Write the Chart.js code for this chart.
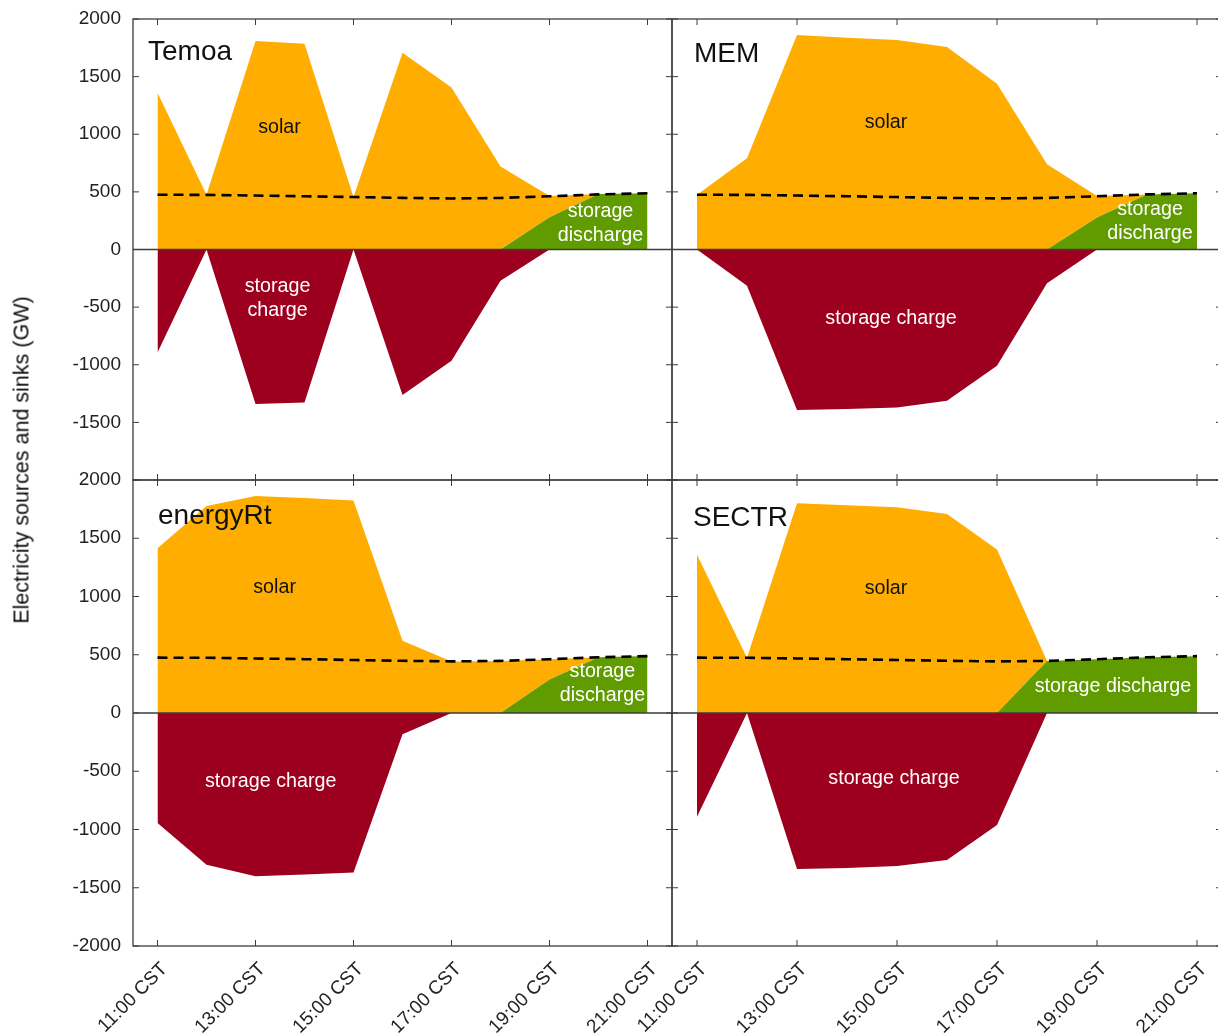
<!DOCTYPE html>
<html>
<head>
<meta charset="utf-8">
<script src="https://cdn.jsdelivr.net/npm/chart.js@4.4.1/dist/chart.umd.min.js"></script>
<style>
  html, body { margin: 0; padding: 0; background: #fff; overflow: hidden; }
  #wrap { position: relative; width: 1218px; height: 1035px; overflow: hidden; }
  #wrap canvas { position: absolute; }
  #ylabel {
    position: absolute; left: 22px; top: 460px;
    transform: translate(-50%, -50%) rotate(-90deg);
    white-space: nowrap; color: #111;
    font: 21.5px "Liberation Sans", Arial, sans-serif;
  }
</style>
</head>
<body>
<div id="wrap">
  <canvas id="c-temoa" width="680" height="509" style="left:0;top:-5px"></canvas>
  <canvas id="c-mem" width="670" height="509" style="left:560px;top:-5px"></canvas>
  <canvas id="c-energyrt" width="680" height="579" style="left:0;top:456px"></canvas>
  <canvas id="c-sectr" width="670" height="579" style="left:560px;top:456px"></canvas>
  <div id="ylabel">Electricity sources and sinks (GW)</div>
</div>
<script>
// hours of the day (CST)
const HOURS = [11, 12, 13, 14, 15, 16, 17, 18, 19, 20, 21];
const X_TICKS = [11, 13, 15, 17, 19, 21];
const X_TICK_LABELS = ["11:00 CST", "13:00 CST", "15:00 CST", "17:00 CST", "19:00 CST", "21:00 CST"];
const Y_TICKS = [-2000, -1500, -1000, -500, 0, 500, 1000, 1500, 2000];

// demand (dashed line), GW
const DEMAND = [475, 474, 468, 462, 455, 448, 443, 447, 462, 478, 488];

// Temoa
const TEMOA_SOLAR = [1361, 474, 1809, 1786, 455, 1708, 1405, 720, 185, 0, 0];
const TEMOA_DISCHARGE = [0, 0, 0, 0, 0, 0, 0, 0, 280, 482, 488];
const TEMOA_CHARGE = [-893, 0, -1341, -1327, 0, -1263, -965, -272, 0, 0, 0];

// MEM
const MEM_SOLAR = [475, 792, 1861, 1838, 1818, 1757, 1439, 740, 188, 0, 0];
const MEM_DISCHARGE = [0, 0, 0, 0, 0, 0, 0, 0, 277, 478, 488];
const MEM_CHARGE = [0, -315, -1393, -1384, -1370, -1312, -1009, -292, 0, 0, 0];

// energyRt
const ERT_SOLAR = [1414, 1776, 1863, 1845, 1823, 620, 443, 447, 174, 0, 0];
const ERT_DISCHARGE = [0, 0, 0, 0, 0, 0, 0, 0, 288, 478, 490];
const ERT_CHARGE = [-945, -1302, -1401, -1386, -1370, -183, 0, 0, 0, 0, 0];

// SECTR
const SECTR_SOLAR = [1358, 474, 1801, 1783, 1767, 1708, 1404, 0, 0, 0, 0];
const SECTR_DISCHARGE = [0, 0, 0, 0, 0, 0, 0, 447, 462, 478, 488];
const SECTR_CHARGE = [-890, 0, -1339, -1330, -1314, -1262, -961, 0, 0, 0, 0];

const ORANGE = "#ffad00";
const RED = "#9c001e";
const GREEN = "#609c00";
const AXIS = "#3c3c3c";
const TEXT = "#222";
const FONT = '"Liberation Sans", Arial, sans-serif';
const TICK_LEN = 6;

Chart.defaults.font.family = FONT;

// y tick labels ask for ~24px of room above/below the plot, so every canvas
// gets at least that much padding and is shifted to keep the plot boxes aligned
const panels = [
  {
    id: "c-temoa", title: "Temoa", titleAt: [15, 41],
    solar: TEMOA_SOLAR, discharge: TEMOA_DISCHARGE, charge: TEMOA_CHARGE,
    padding: { top: 24, right: 8, bottom: 24, left: 0 }, showX: false, showY: true, hideMinLabel: true,
    labels: [
      { text: ["solar"], x: 13.49, y: 1061, color: "#111" },
      { text: ["storage", "charge"], x: 13.45, y: -426, color: "#fff" },
      { text: ["storage", "discharge"], x: 20.04, y: 226, color: "#fff" },
    ],
  },
  {
    id: "c-mem", title: "MEM", titleAt: [22, 43],
    solar: MEM_SOLAR, discharge: MEM_DISCHARGE, charge: MEM_CHARGE,
    padding: { top: 24, right: 8, bottom: 24, left: 112 }, showX: false, showY: false,
    labels: [
      { text: ["solar"], x: 14.78, y: 1104, color: "#111" },
      { text: ["storage charge"], x: 14.88, y: -600, color: "#fff" },
      { text: ["storage", "discharge"], x: 20.06, y: 243, color: "#fff" },
    ],
  },
  {
    id: "c-energyrt", title: "energyRt", titleAt: [25, 44],
    solar: ERT_SOLAR, discharge: ERT_DISCHARGE, charge: ERT_CHARGE,
    padding: { top: 24, right: 8, bottom: 0, left: 0 }, showX: true, showY: true,
    labels: [
      { text: ["solar"], x: 13.39, y: 1073, color: "#111" },
      { text: ["storage charge"], x: 13.31, y: -592, color: "#fff" },
      { text: ["storage", "discharge"], x: 20.08, y: 249, color: "#fff" },
    ],
  },
  {
    id: "c-sectr", title: "SECTR", titleAt: [21, 46],
    solar: SECTR_SOLAR, discharge: SECTR_DISCHARGE, charge: SECTR_CHARGE,
    padding: { top: 24, right: 8, bottom: 0, left: 112 }, showX: true, showY: false,
    labels: [
      { text: ["solar"], x: 14.78, y: 1064, color: "#111" },
      { text: ["storage charge"], x: 14.94, y: -567, color: "#fff" },
      { text: ["storage discharge"], x: 19.32, y: 223, color: "#fff" },
    ],
  },
];

function points(values) {
  return HOURS.map((h, i) => ({ x: h, y: values[i] }));
}

function decorPlugin(p) {
  return {
    id: "decor",
    afterDatasetsDraw(chart) {
      const { ctx, chartArea: a } = chart;
      const x = chart.scales.x;
      const y = chart.scales.y;
      const line = (x1, y1, x2, y2) => {
        ctx.beginPath();
        ctx.moveTo(x1, y1);
        ctx.lineTo(x2, y2);
        ctx.stroke();
      };
      ctx.save();

      // zero line
      ctx.strokeStyle = AXIS;
      ctx.lineWidth = 1.5;
      const y0 = y.getPixelForValue(0);
      line(a.left, y0, a.right, y0);

      // box and inward ticks
      ctx.lineWidth = 1.3;
      ctx.strokeRect(a.left, a.top, a.right - a.left, a.bottom - a.top);
      ctx.lineWidth = 1;
      Y_TICKS.forEach((v) => {
        const py = y.getPixelForValue(v);
        line(a.left, py, a.left + TICK_LEN, py);
        line(a.right, py, a.right - TICK_LEN, py);
      });
      X_TICKS.forEach((v) => {
        const px = x.getPixelForValue(v);
        line(px, a.top, px, a.top + TICK_LEN);
        line(px, a.bottom, px, a.bottom - TICK_LEN);
      });

      // area labels
      ctx.font = "19.7px " + FONT;
      ctx.textAlign = "center";
      ctx.textBaseline = "middle";
      p.labels.forEach((l) => {
        const cx = x.getPixelForValue(l.x);
        const cy = y.getPixelForValue(l.y);
        const lh = 24;
        const top = cy - ((l.text.length - 1) * lh) / 2;
        ctx.fillStyle = l.color;
        l.text.forEach((t, i) => ctx.fillText(t, cx, top + i * lh));
      });

      // panel title
      ctx.font = "28px " + FONT;
      ctx.textAlign = "left";
      ctx.textBaseline = "alphabetic";
      ctx.fillStyle = "#111";
      ctx.fillText(p.title, a.left + p.titleAt[0], a.top + p.titleAt[1]);

      ctx.restore();
    },
  };
}

function makePanel(p) {
  const canvas = document.getElementById(p.id);
  const area = (label, values, stack, fill, color) => ({
    label, data: points(values), stack, fill,
    backgroundColor: color, borderColor: color, borderWidth: 0,
    pointRadius: 0, tension: 0, order: 1,
  });

  new Chart(canvas, {
    type: "line",
    data: {
      datasets: [
        area("storage discharge", p.discharge, "pos", "origin", GREEN),
        area("solar", p.solar, "pos", "-1", ORANGE),
        area("storage charge", p.charge, "neg", "origin", RED),
        {
          label: "demand", data: points(DEMAND), stack: "demand", fill: false,
          borderColor: "#000", borderWidth: 2.6, borderDash: [10, 6],
          pointRadius: 0, tension: 0, order: 0,
        },
      ],
    },
    options: {
      responsive: false,
      animation: false,
      layout: { padding: p.padding },
      plugins: {
        legend: { display: false },
        tooltip: { enabled: false },
      },
      scales: {
        x: {
          type: "linear",
          min: 10.5,
          max: 21.5,
          display: p.showX,
          grid: { display: false, drawTicks: false },
          border: { display: false },
          afterBuildTicks: (s) => { s.ticks = X_TICKS.map((v) => ({ value: v })); },
          afterFit: (s) => { s.height = p.showX ? 89 : 0; },
          ticks: {
            autoSkip: false,
            minRotation: 45,
            maxRotation: 45,
            padding: 12,
            labelOffset: 7,
            color: TEXT,
            font: { size: 19 },
            callback: (v, i) => X_TICK_LABELS[i],
          },
        },
        y: {
          min: -2000,
          max: 2000,
          stacked: true,
          display: p.showY,
          grid: { display: false, drawTicks: false },
          border: { display: false },
          afterBuildTicks: (s) => { s.ticks = Y_TICKS.map((v) => ({ value: v })); },
          afterFit: (s) => { s.width = p.showY ? 133 : 0; },
          ticks: {
            padding: 12,
            color: TEXT,
            font: { size: 19 },
            callback: (v) => (p.hideMinLabel && v === -2000 ? "" : String(v)),
          },
        },
      },
    },
    plugins: [decorPlugin(p)],
  });
}

panels.forEach(makePanel);
</script>
</body>
</html>
